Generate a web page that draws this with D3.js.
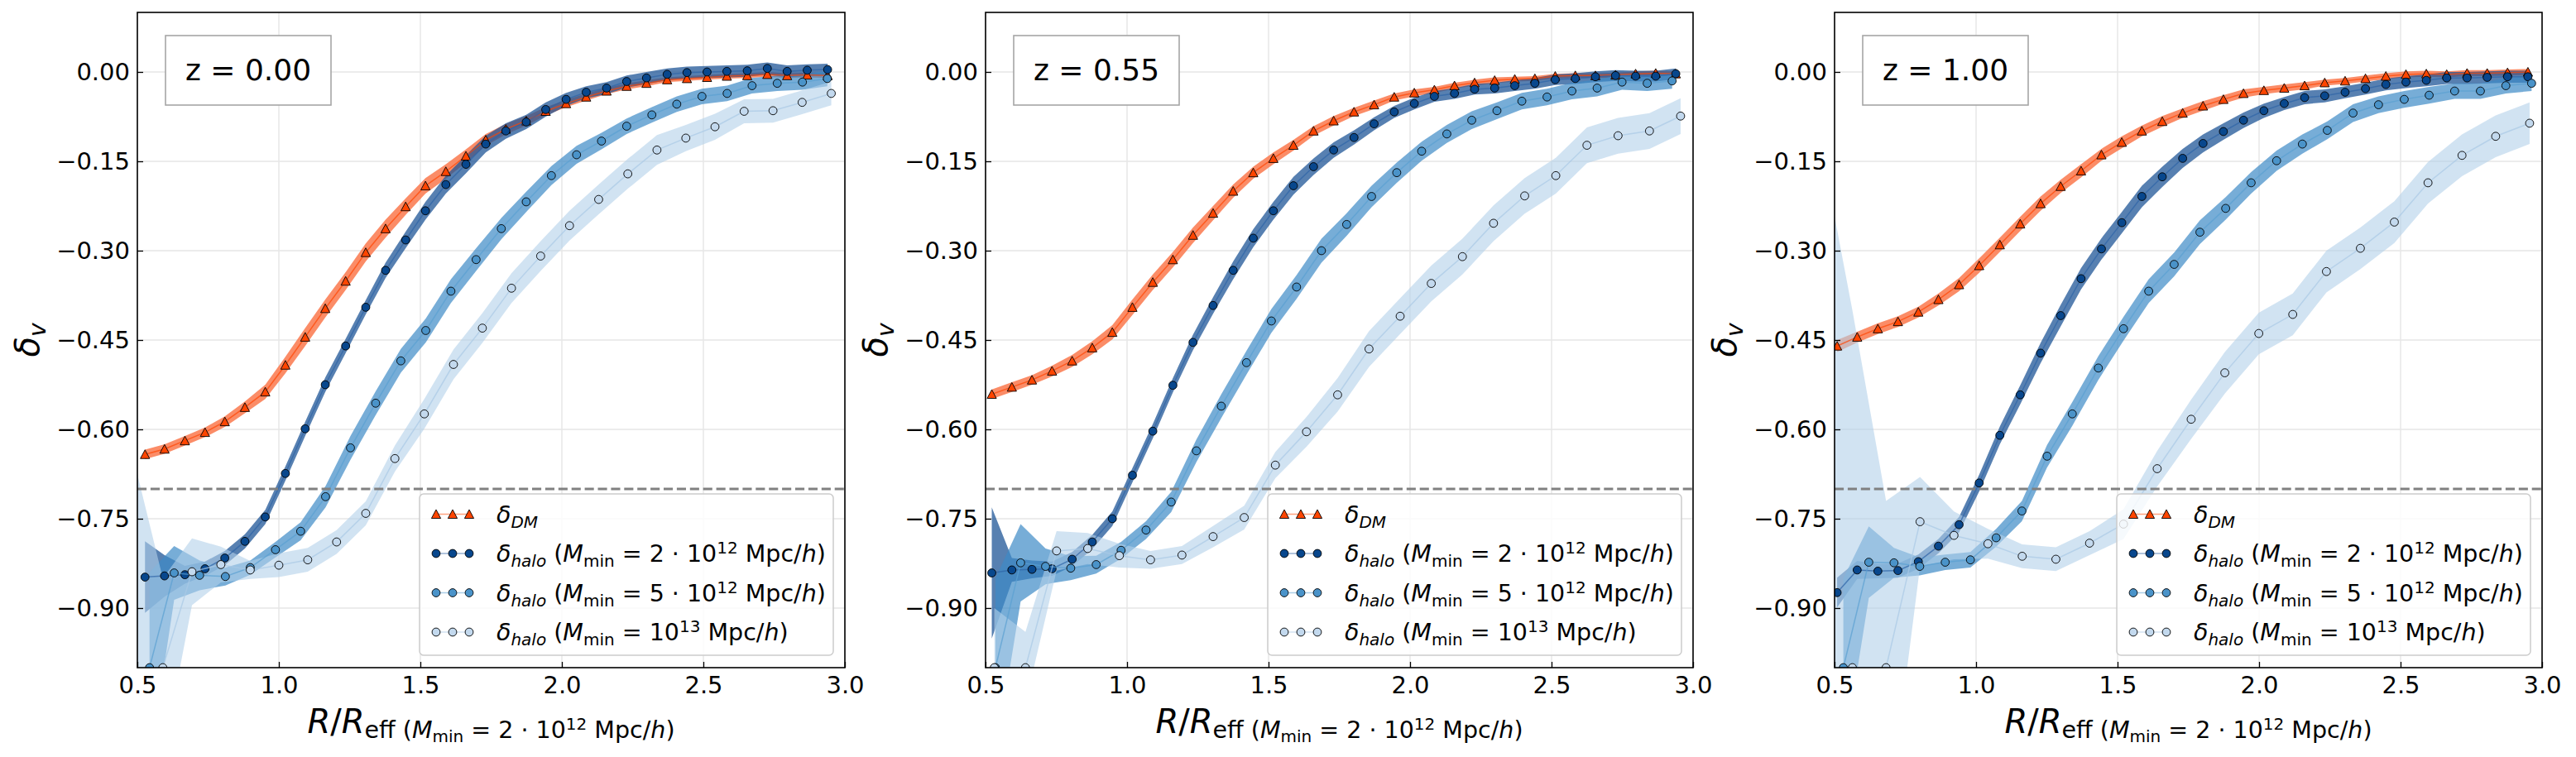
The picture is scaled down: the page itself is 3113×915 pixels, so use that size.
<!DOCTYPE html>
<html lang="en">
<head>
<meta charset="utf-8">
<title>Void profiles</title>
<style>
  body { margin: 0; background: #fff; }
  svg { display: block; font-family: "DejaVu Sans", sans-serif; }
</style>
</head>
<body>
<script src="https://cdn.jsdelivr.net/npm/d3@7"></script>
<script>

// ---- data ----
var redshifts = ["z = 0.00", "z = 0.55", "z = 1.00"];
var xTicks = [0.5, 1.0, 1.5, 2.0, 2.5, 3.0];
var yTicks = [0.00, -0.15, -0.30, -0.45, -0.60, -0.75, -0.90];
var threshold = -0.7;
var massLabels = ["2 \u00b7 10", "5 \u00b7 10", "10"];
var massExps = ["12", "12", "13"];

// z = 0.00
var xA_z0 = [0.527,0.596,0.668,0.739,0.809,0.880,0.952,1.023,1.093,1.164,1.236,1.307,1.377,1.448,1.518,1.590,1.661,1.731,1.802,1.874,1.943,2.015,2.086,2.158,2.229,2.299,2.372,2.442,2.513,2.583,2.655,2.726,2.796,2.867,2.939];
var dm_z0 = [-0.642,-0.633,-0.619,-0.605,-0.587,-0.563,-0.537,-0.492,-0.445,-0.397,-0.351,-0.303,-0.263,-0.226,-0.191,-0.167,-0.141,-0.114,-0.096,-0.082,-0.066,-0.053,-0.042,-0.032,-0.024,-0.019,-0.013,-0.011,-0.009,-0.007,-0.006,-0.004,-0.006,-0.005,-0.006];
var dmErr_z0 = [0.008,0.008,0.008,0.008,0.009,0.010,0.012,0.014,0.015,0.015,0.015,0.015,0.015,0.014,0.013,0.012,0.011,0.010,0.009,0.008,0.007,0.006,0.006,0.005,0.005,0.005,0.004,0.004,0.004,0.004,0.004,0.004,0.004,0.004,0.004];
var h2_z0 = [-0.848,-0.846,-0.844,-0.834,-0.816,-0.788,-0.747,-0.674,-0.599,-0.525,-0.460,-0.395,-0.333,-0.282,-0.233,-0.189,-0.155,-0.121,-0.099,-0.084,-0.063,-0.046,-0.034,-0.027,-0.016,-0.010,-0.004,-0.001,0.000,0.001,0.002,0.006,0.001,0.003,0.004];
var h2Err_z0 = [0.060,0.035,0.015,0.012,0.012,0.012,0.012,0.012,0.012,0.012,0.012,0.012,0.013,0.014,0.015,0.015,0.015,0.014,0.013,0.012,0.012,0.011,0.010,0.010,0.010,0.010,0.010,0.010,0.010,0.010,0.010,0.010,0.010,0.010,0.010];
var x5_z0 = [0.543,0.630,0.720,0.811,0.899,0.988,1.077,1.165,1.253,1.342,1.431,1.519,1.608,1.697,1.786,1.874,1.963,2.052,2.140,2.229,2.318,2.406,2.495,2.584,2.672,2.761,2.850,2.938];
var h5_z0 = [-1.000,-0.841,-0.845,-0.847,-0.832,-0.802,-0.771,-0.713,-0.631,-0.556,-0.485,-0.434,-0.368,-0.315,-0.263,-0.218,-0.174,-0.139,-0.116,-0.091,-0.072,-0.054,-0.041,-0.036,-0.023,-0.019,-0.017,-0.011];
var h5Err_z0 = [0.160,0.045,0.025,0.015,0.012,0.013,0.015,0.018,0.020,0.020,0.020,0.020,0.020,0.019,0.018,0.017,0.016,0.015,0.014,0.013,0.013,0.013,0.013,0.013,0.013,0.013,0.013,0.013];
var x13_z0 = [0.487,0.590,0.693,0.795,0.899,1.000,1.102,1.204,1.307,1.410,1.514,1.617,1.719,1.822,1.925,2.027,2.130,2.233,2.336,2.438,2.541,2.644,2.746,2.849,2.952];
var h13_z0 = [-1.250,-1.000,-0.839,-0.827,-0.836,-0.828,-0.819,-0.789,-0.741,-0.649,-0.574,-0.491,-0.430,-0.363,-0.309,-0.258,-0.214,-0.171,-0.131,-0.111,-0.092,-0.066,-0.065,-0.051,-0.036];
var h13Err_z0 = [0.600,0.150,0.056,0.030,0.015,0.020,0.020,0.020,0.020,0.022,0.025,0.025,0.025,0.025,0.025,0.025,0.025,0.025,0.025,0.022,0.022,0.020,0.020,0.020,0.020];

// z = 0.55
var xA_z1 = [0.522,0.593,0.664,0.735,0.806,0.877,0.948,1.019,1.091,1.162,1.233,1.304,1.375,1.446,1.517,1.588,1.659,1.730,1.802,1.873,1.944,2.015,2.086,2.157,2.228,2.299,2.370,2.441,2.513,2.584,2.655,2.726,2.797,2.868,2.939];
var dm_z1 = [-0.541,-0.529,-0.517,-0.502,-0.485,-0.463,-0.437,-0.395,-0.353,-0.315,-0.274,-0.237,-0.200,-0.169,-0.145,-0.123,-0.099,-0.082,-0.067,-0.055,-0.042,-0.035,-0.030,-0.023,-0.018,-0.014,-0.012,-0.011,-0.007,-0.006,-0.006,-0.005,-0.003,-0.002,-0.003];
var dmErr_z1 = [0.008,0.008,0.008,0.009,0.010,0.011,0.012,0.013,0.013,0.013,0.013,0.012,0.011,0.010,0.010,0.009,0.008,0.008,0.007,0.007,0.006,0.006,0.005,0.005,0.005,0.005,0.004,0.004,0.004,0.004,0.004,0.004,0.004,0.004,0.004];
var h2_z1 = [-0.841,-0.836,-0.835,-0.834,-0.818,-0.789,-0.750,-0.677,-0.603,-0.526,-0.454,-0.392,-0.333,-0.279,-0.233,-0.191,-0.159,-0.131,-0.110,-0.087,-0.067,-0.053,-0.041,-0.036,-0.029,-0.027,-0.023,-0.019,-0.013,-0.011,-0.008,-0.006,-0.007,-0.007,-0.003];
var h2Err_z1 = [0.110,0.020,0.015,0.012,0.012,0.012,0.012,0.012,0.012,0.012,0.013,0.014,0.015,0.015,0.015,0.015,0.014,0.013,0.012,0.011,0.010,0.010,0.009,0.009,0.009,0.009,0.009,0.009,0.009,0.009,0.009,0.009,0.009,0.009,0.009];
var x5_z1 = [0.535,0.624,0.712,0.801,0.891,0.979,1.067,1.156,1.245,1.333,1.422,1.510,1.599,1.687,1.776,1.864,1.953,2.041,2.130,2.218,2.307,2.395,2.484,2.572,2.661,2.749,2.838,2.926];
var h5_z1 = [-1.000,-0.824,-0.830,-0.833,-0.827,-0.803,-0.769,-0.722,-0.636,-0.561,-0.488,-0.418,-0.361,-0.300,-0.256,-0.209,-0.169,-0.133,-0.104,-0.081,-0.065,-0.049,-0.042,-0.032,-0.027,-0.017,-0.019,-0.015];
var h5Err_z1 = [0.150,0.065,0.030,0.020,0.015,0.014,0.015,0.017,0.019,0.020,0.020,0.020,0.020,0.020,0.019,0.018,0.017,0.016,0.015,0.015,0.014,0.014,0.014,0.014,0.014,0.013,0.013,0.013];
var x13_z1 = [0.531,0.641,0.751,0.861,0.973,1.083,1.194,1.304,1.414,1.524,1.634,1.744,1.855,1.965,2.075,2.185,2.295,2.405,2.515,2.625,2.735,2.846,2.956];
var h13_z1 = [-1.000,-1.000,-0.804,-0.800,-0.812,-0.819,-0.811,-0.780,-0.748,-0.660,-0.604,-0.542,-0.465,-0.410,-0.355,-0.310,-0.254,-0.208,-0.174,-0.123,-0.107,-0.099,-0.074];
var h13Err_z1 = [0.100,0.060,0.033,0.026,0.020,0.015,0.015,0.018,0.020,0.022,0.025,0.028,0.030,0.030,0.030,0.030,0.030,0.030,0.030,0.030,0.030,0.030,0.030];

// z = 1.00
var xA_z2 = [0.509,0.580,0.653,0.724,0.796,0.867,0.940,1.011,1.084,1.156,1.228,1.299,1.371,1.443,1.515,1.586,1.658,1.730,1.802,1.874,1.945,2.017,2.089,2.161,2.232,2.304,2.376,2.448,2.519,2.591,2.663,2.735,2.806,2.878,2.950];
var dm_z2 = [-0.460,-0.445,-0.431,-0.419,-0.403,-0.382,-0.357,-0.325,-0.290,-0.255,-0.221,-0.192,-0.166,-0.139,-0.118,-0.099,-0.083,-0.069,-0.057,-0.046,-0.036,-0.031,-0.027,-0.023,-0.018,-0.015,-0.011,-0.007,-0.004,-0.003,-0.004,-0.002,-0.002,-0.001,0.000];
var dmErr_z2 = [0.010,0.009,0.009,0.009,0.009,0.010,0.011,0.012,0.012,0.012,0.012,0.011,0.011,0.010,0.010,0.009,0.009,0.008,0.008,0.007,0.007,0.006,0.006,0.006,0.005,0.005,0.005,0.005,0.005,0.005,0.005,0.005,0.005,0.005,0.005];
var h2_z2 = [-0.874,-0.836,-0.838,-0.837,-0.822,-0.796,-0.760,-0.690,-0.610,-0.542,-0.472,-0.409,-0.347,-0.297,-0.253,-0.209,-0.176,-0.145,-0.120,-0.100,-0.081,-0.065,-0.053,-0.043,-0.040,-0.034,-0.028,-0.021,-0.017,-0.014,-0.010,-0.010,-0.009,-0.008,-0.008];
var h2Err_z2 = [0.025,0.015,0.012,0.012,0.012,0.012,0.013,0.014,0.015,0.016,0.017,0.018,0.018,0.018,0.018,0.018,0.017,0.016,0.015,0.014,0.013,0.012,0.011,0.011,0.011,0.010,0.010,0.010,0.010,0.010,0.010,0.010,0.010,0.010,0.010];
var x5_z2 = [0.531,0.621,0.710,0.801,0.891,0.980,1.071,1.162,1.251,1.340,1.432,1.521,1.610,1.700,1.791,1.882,1.972,2.062,2.153,2.241,2.332,2.422,2.513,2.601,2.691,2.782,2.872,2.963];
var h5_z2 = [-1.000,-0.823,-0.824,-0.830,-0.823,-0.819,-0.782,-0.737,-0.645,-0.574,-0.497,-0.431,-0.368,-0.323,-0.269,-0.229,-0.186,-0.149,-0.121,-0.098,-0.069,-0.055,-0.046,-0.039,-0.032,-0.032,-0.023,-0.019];
var h5Err_z2 = [0.150,0.060,0.025,0.015,0.013,0.013,0.015,0.017,0.019,0.020,0.020,0.020,0.020,0.020,0.020,0.019,0.018,0.017,0.016,0.015,0.015,0.014,0.014,0.014,0.013,0.013,0.013,0.013];
var x13_z2 = [0.443,0.563,0.682,0.802,0.922,1.042,1.163,1.282,1.401,1.521,1.640,1.760,1.879,1.999,2.119,2.238,2.358,2.478,2.597,2.717,2.836,2.956];
var h13_z2 = [-1.200,-1.000,-1.000,-0.755,-0.778,-0.792,-0.813,-0.818,-0.791,-0.759,-0.666,-0.583,-0.505,-0.439,-0.407,-0.335,-0.296,-0.252,-0.186,-0.140,-0.108,-0.086];
var h13Err_z2 = [1.100,0.600,0.280,0.075,0.040,0.025,0.020,0.020,0.020,0.025,0.030,0.033,0.035,0.035,0.035,0.035,0.035,0.035,0.035,0.035,0.035,0.035];

// ---- layout ----
var W = 3113, H = 915;
var panelLeft = [166, 1191, 2217];
var plotTop = 15, plotW = 855, plotH = 792;

// series styles: marker fill, band fill, band opacity
var styles = [
    {name: "dm",  shape: "tri",    fill: "#ff4500", band: "#fb7f56", bandOp: 0.9,  line: "#ff4500"},
    {name: "h2",  shape: "circle", fill: "#08478d", band: "#1f5597", bandOp: 0.75, line: "#2d64a6"},
    {name: "h5",  shape: "circle", fill: "#4a93c9", band: "#3d8ac6", bandOp: 0.7,  line: "#5a9fd2"},
    {name: "h13", shape: "circle", fill: "#c3d9ee", band: "#b3d0ea", bandOp: 0.6,  line: "#a9c9e6"}
];

function zip(xs, vs, es) {
    return xs.map(function(x, i) { return {x: x, v: vs[i], e: es[i]}; });
}

var panels = [
    [zip(xA_z0, dm_z0, dmErr_z0), zip(xA_z0, h2_z0, h2Err_z0), zip(x5_z0, h5_z0, h5Err_z0), zip(x13_z0, h13_z0, h13Err_z0)],
    [zip(xA_z1, dm_z1, dmErr_z1), zip(xA_z1, h2_z1, h2Err_z1), zip(x5_z1, h5_z1, h5Err_z1), zip(x13_z1, h13_z1, h13Err_z1)],
    [zip(xA_z2, dm_z2, dmErr_z2), zip(xA_z2, h2_z2, h2Err_z2), zip(x5_z2, h5_z2, h5Err_z2), zip(x13_z2, h13_z2, h13Err_z2)]
];

var svg = d3.select("body").append("svg")
    .attr("width", W)
    .attr("height", H);

var fmtY = function(d) { return d3.format(".2f")(d).replace("-", "\u2212"); };

// write mathtext-like runs: parts = [text, italic, shift, size]
function mathText(textSel, parts) {
    var cur = 0;
    parts.forEach(function(p) {
        var ts = textSel.append("tspan").text(p[0]);
        if (p[1]) ts.attr("font-style", "italic");
        if (p[3]) ts.attr("font-size", p[3]);
        ts.attr("dy", p[2] - cur);
        cur = p[2];
    });
}

function marker(sel, shape, fill) {
    if (shape === "tri") {
        sel.append("path")
            .attr("d", "M0,-5.5L5.6,5L-5.6,5Z")
            .attr("fill", fill)
            .attr("stroke", "#000")
            .attr("stroke-width", 0.9);
    } else {
        sel.append("circle")
            .attr("r", 4.9)
            .attr("fill", fill)
            .attr("stroke", "#000")
            .attr("stroke-width", 0.9);
    }
}

function legendRow(i) {
    var base = [["\u03b4", true, 0]];
    if (i === 0) return base.concat([["DM", true, 6, 20]]);
    return base.concat([
        ["halo", true, 6, 20], [" (", false, 0], ["M", true, 0], ["min", false, 6, 20],
        [" = " + massLabels[i - 1], false, 0], [massExps[i - 1], false, -10, 20],
        [" Mpc/", false, 0], ["h", true, 0], [")", false, 0]
    ]);
}

panels.forEach(function(series, pi) {
    var g = svg.append("g")
        .attr("transform", "translate(" + panelLeft[pi] + "," + plotTop + ")");

    var x = d3.scaleLinear().domain([0.5, 3.0]).range([0, plotW]);
    var y = d3.scaleLinear().domain([-1.0, 0.1]).range([plotH, 0]);

    g.append("clipPath").attr("id", "clip" + pi)
        .append("rect").attr("width", plotW).attr("height", plotH);

    // grid
    g.append("g").selectAll("line.gx").data(xTicks).enter().append("line")
        .attr("x1", function(d) { return x(d); }).attr("x2", function(d) { return x(d); })
        .attr("y1", 0).attr("y2", plotH)
        .attr("stroke", "#e6e6e6").attr("stroke-width", 1.4);
    g.append("g").selectAll("line.gy").data(yTicks).enter().append("line")
        .attr("y1", function(d) { return y(d); }).attr("y2", function(d) { return y(d); })
        .attr("x1", 0).attr("x2", plotW)
        .attr("stroke", "#e6e6e6").attr("stroke-width", 1.4);

    var plot = g.append("g").attr("clip-path", "url(#clip" + pi + ")");

    var area = d3.area()
        .x(function(d) { return x(d.x); })
        .y0(function(d) { return y(d.v - d.e); })
        .y1(function(d) { return y(d.v + d.e); });
    var line = d3.line()
        .x(function(d) { return x(d.x); })
        .y(function(d) { return y(d.v); });

    // bands first
    series.forEach(function(s, si) {
        plot.append("path")
            .datum(s)
            .attr("d", area)
            .attr("fill", styles[si].band)
            .attr("fill-opacity", styles[si].bandOp);
    });

    // lines and markers
    series.forEach(function(s, si) {
        plot.append("path")
            .datum(s)
            .attr("d", line)
            .attr("fill", "none")
            .attr("stroke", styles[si].line)
            .attr("stroke-opacity", 0.7)
            .attr("stroke-width", 1.5);
        plot.append("g").selectAll("g").data(s).enter().append("g")
            .attr("transform", function(d) { return "translate(" + x(d.x) + "," + y(d.v) + ")"; })
            .each(function() { marker(d3.select(this), styles[si].shape, styles[si].fill); });
    });

    // threshold line
    g.append("line")
        .attr("x1", 0).attr("x2", plotW)
        .attr("y1", y(threshold)).attr("y2", y(threshold))
        .attr("stroke", "#808080")
        .attr("stroke-width", 3)
        .attr("stroke-dasharray", "11.1,4.8");

    // axes, ticks pointing inward
    var xAxis = d3.axisBottom(x).tickValues(xTicks).tickFormat(d3.format(".1f"))
        .tickSizeInner(-7).tickSizeOuter(0).tickPadding(10);
    var yAxis = d3.axisLeft(y).tickValues(yTicks).tickFormat(fmtY)
        .tickSizeInner(-7).tickSizeOuter(0).tickPadding(9);

    var gx = g.append("g").attr("transform", "translate(0," + plotH + ")").call(xAxis);
    var gy = g.append("g").call(yAxis);
    [gx, gy].forEach(function(ax) {
        ax.select(".domain").remove();
        ax.selectAll("line").attr("stroke", "#000").attr("stroke-width", 1.3);
        ax.selectAll("text").attr("font-size", 29).attr("fill", "#000")
            .attr("font-family", "DejaVu Sans");
    });

    g.append("rect")
        .attr("width", plotW).attr("height", plotH)
        .attr("fill", "none").attr("stroke", "#000").attr("stroke-width", 1.6);

    // redshift box
    g.append("rect")
        .attr("x", 34).attr("y", 28).attr("width", 200).attr("height", 84)
        .attr("fill", "#fff").attr("stroke", "#a6a6a6").attr("stroke-width", 1.6);
    g.append("text")
        .attr("x", 134).attr("y", 82)
        .attr("text-anchor", "middle")
        .attr("font-size", 36)
        .text(redshifts[pi]);

    // legend
    var lg = g.append("g").attr("transform", "translate(341,582)");
    lg.append("rect")
        .attr("width", 500).attr("height", 195).attr("rx", 5)
        .attr("fill", "#fff").attr("fill-opacity", 0.8)
        .attr("stroke", "#cccccc").attr("stroke-width", 1.5);
    styles.forEach(function(st, si) {
        var ry = 24.5 + si * 47.5;
        lg.append("line")
            .attr("x1", 20).attr("x2", 60).attr("y1", ry).attr("y2", ry)
            .attr("stroke", st.line).attr("stroke-opacity", 0.5).attr("stroke-width", 1.5);
        [20, 40, 60].forEach(function(mx) {
            var m = lg.append("g").attr("transform", "translate(" + mx + "," + ry + ")");
            marker(m, st.shape, st.fill);
        });
        var t = lg.append("text")
            .attr("x", 93).attr("y", ry + 10)
            .attr("font-size", 28.5);
        mathText(t, legendRow(si));
    });

    // y label
    var yl = g.append("text")
        .attr("transform", "translate(-119," + (plotH / 2) + ") rotate(-90)")
        .attr("text-anchor", "middle")
        .attr("font-size", 40);
    mathText(yl, [["\u03b4", true, 0], ["v", true, 8, 28]]);

    // x label
    var xl = g.append("text")
        .attr("x", plotW / 2).attr("y", 871)
        .attr("text-anchor", "middle")
        .attr("font-size", 40);
    mathText(xl, [
        ["R", true, 0], ["/", false, 0], ["R", true, 0],
        ["eff (", false, 6, 28.5], ["M", true, 6, 28.5], ["min", false, 11, 20],
        [" = 2 \u00b7 10", false, 6, 28.5], ["12", false, -4, 20],
        [" Mpc/", false, 6, 28.5], ["h", true, 6, 28.5], [")", false, 6, 28.5]
    ]);
});

</script>
</body>
</html>
